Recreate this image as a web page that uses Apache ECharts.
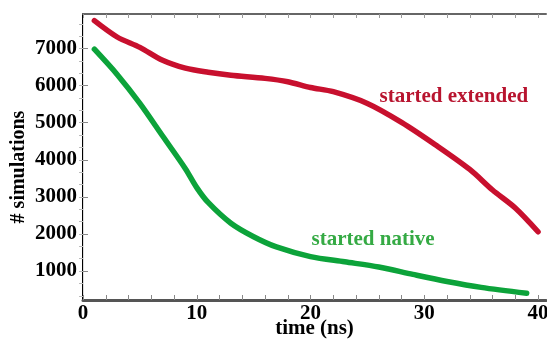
<!DOCTYPE html>
<html>
<head>
<meta charset="utf-8">
<script src="https://cdn.jsdelivr.net/npm/echarts@6/dist/echarts.min.js"></script>
<style>
    html, body { margin: 0; padding: 0; background: #fff; }
    #chart { width: 547px; height: 340px; }
</style>
</head>
<body>
<div id="chart"></div>
<script>
// started extended
var timeExtended = [1, 3, 5, 7, 9, 11, 13, 16, 18, 20, 22, 25, 28, 31, 34, 36, 38, 40];
var extended = [7750, 7310, 7030, 6680, 6470, 6360, 6280, 6195, 6105, 5950, 5835, 5520, 5010, 4400, 3740, 3185, 2700, 2060];
// started native
var timeNative = [1, 3, 5, 7, 9, 10, 11, 13, 15, 17, 20, 23, 26, 29, 32, 35, 39];
var native = [6980, 6300, 5520, 4640, 3760, 3250, 2850, 2290, 1925, 1650, 1390, 1250, 1110, 910, 720, 560, 400];
// 刻度
var xTicks = [0, 10, 20, 30, 40];
var yTicks = [1000, 2000, 3000, 4000, 5000, 6000, 7000];

function pairs(xs, ys) {
    var out = [];
    for (var i = 0; i < xs.length; i++) {
        out.push([xs[i], ys[i]]);
    }
    return out;
}

// 小刻度
var xMinor = [];
for (var i = 0; i <= 40; i += 2) xMinor.push(i);
var yMinor = [];
for (var j = 0; j < yTicks.length; j++) {
    yMinor.push(yTicks[j] - 667, yTicks[j] - 333, yTicks[j]);
}
yMinor.push(7333, 7667);

var font = '"Liberation Serif", "DejaVu Serif", serif';
var myChart = echarts.init(document.getElementById('chart'));

var option = {
    animation: false,
    grid: { left: 83, top: 14, right: 1, bottom: 40, outerBoundsMode: 'none', containLabel: false },
    xAxis: [{
        type: 'value',
        min: 0,
        max: 40.7,
        name: 'time (ns)',
        nameLocation: 'middle',
        nameGap: 18,
        nameMoveOverlap: false,
        nameTextStyle: { fontFamily: font, fontWeight: 'bold', fontSize: 21, color: '#000' },
        axisLine: { lineStyle: { color: '#555', width: 3 } },
        axisTick: { inside: true, length: 5, customValues: xMinor, lineStyle: { color: '#888' } },
        axisLabel: { customValues: xTicks, margin: 3, fontFamily: font, fontWeight: 'bold', fontSize: 21, color: '#000' },
        splitLine: { show: false }
    }, {
        type: 'value',
        position: 'top',
        min: 0,
        max: 40.7,
        axisLine: { show: true, lineStyle: { color: '#666', width: 2 } },
        axisTick: { inside: true, length: 4, customValues: xMinor, lineStyle: { color: '#999' } },
        axisLabel: { show: false },
        splitLine: { show: false }
    }],
    yAxis: [{
        type: 'value',
        min: 220,
        max: 7930,
        name: '# simulations',
        nameLocation: 'middle',
        nameGap: 54,
        nameMoveOverlap: false,
        nameTextStyle: { fontFamily: font, fontWeight: 'bold', fontSize: 20, color: '#000', padding: [0, 20, 0, 0] },
        axisLine: { show: true, lineStyle: { color: '#000', width: 2 } },
        axisTick: { inside: true, length: 5, customValues: yTicks, lineStyle: { color: '#888' } },
        axisLabel: {
            customValues: yTicks, margin: 6, fontFamily: font, fontWeight: 'bold', fontSize: 21, color: '#000',
            formatter: function (v) { return String(v); }
        },
        splitLine: { show: false }
    }, {
        type: 'value',
        position: 'right',
        min: 220,
        max: 7930,
        axisLine: { show: true, lineStyle: { color: '#ddd', width: 1 } },
        axisTick: { inside: true, length: 4, customValues: yMinor, lineStyle: { color: '#bbb' } },
        axisLabel: { show: false },
        splitLine: { show: false }
    }],
    series: [{
        name: 'started extended',
        type: 'line',
        data: pairs(timeExtended, extended),
        smooth: 0.3,
        symbol: 'none',
        lineStyle: { color: '#c8102e', width: 5.5, cap: 'round' },
        markPoint: {
            symbol: 'circle',
            symbolSize: 0,
            label: {
                show: true,
                formatter: 'started extended',
                fontFamily: font, fontWeight: 'bold', fontSize: 21, color: '#b8142f'
            },
            data: [{ coord: [32.6, 5692] }]
        }
    }, {
        name: 'started native',
        type: 'line',
        data: pairs(timeNative, native),
        smooth: 0.3,
        symbol: 'none',
        lineStyle: { color: '#0ca33a', width: 5.5, cap: 'round' },
        markPoint: {
            symbol: 'circle',
            symbolSize: 0,
            label: {
                show: true,
                formatter: 'started native',
                fontFamily: font, fontWeight: 'bold', fontSize: 21, color: '#35aa44'
            },
            data: [{ coord: [25.5, 1862] }]
        }
    }]
};
myChart.setOption(option);
</script>
</body>
</html>
